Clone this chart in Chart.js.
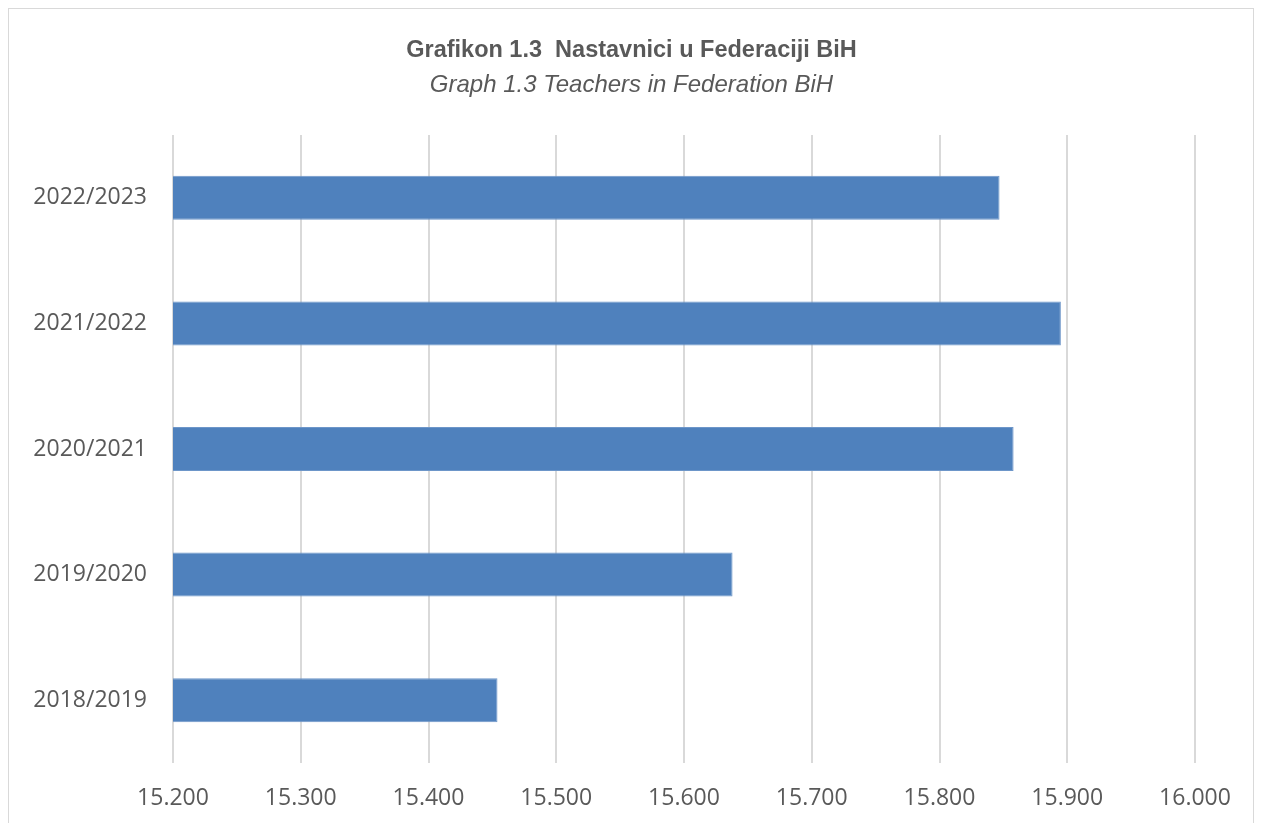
<!DOCTYPE html>
<html>
<head>
<meta charset="utf-8">
<script src="https://cdn.jsdelivr.net/npm/chart.js@4/dist/chart.umd.min.js"></script>
<style>
  body { margin: 0; background: #fff; }
  #wrap { position: relative; width: 1263px; height: 823px; }
  #frame { position: absolute; left: 8px; top: 8px; width: 1246px; height: 830px; border: 1px solid #d9d9d9; box-sizing: border-box; }
  canvas { position: absolute; left: 0; top: 0; }
</style>
</head>
<body>
<div id="wrap">
  <div id="frame"></div>
  <canvas id="chart" width="1263" height="823"></canvas>
</div>
<script>
// school years, top to bottom as in the picture
const years = ["2022/2023", "2021/2022", "2020/2021", "2019/2020", "2018/2019"];
const teachers = [15847, 15895, 15858, 15638, 15454];

const xMin = 15200;
const xMax = 16000;
const xStep = 100;

const grey = '#595959';

function fmt(v) {
  // 15200 -> 15.200
  return v.toLocaleString('de-DE');
}

// center the title + subtitle on the whole frame, not only the padded area
const centerTitles = {
  id: 'centerTitles',
  afterLayout(chart) {
    chart.boxes.forEach(b => {
      if (b.position === 'top' && b.options && b.options.text !== undefined) {
        b.left = 8;
        b.right = chart.width - 8;
      }
    });
  }
};

const chart = new Chart(document.getElementById('chart'), {
  type: 'bar',
  data: {
    labels: years,
    datasets: [{
      label: 'Nastavnici',
      data: teachers,
      backgroundColor: '#4f81bd',
      borderColor: '#6d96c9',
      borderWidth: 1,
      borderSkipped: false,
      barPercentage: 0.35,
      categoryPercentage: 1,
    }]
  },
  plugins: [centerTitles],
  options: {
    indexAxis: 'y',
    responsive: false,
    animation: false,
    layout: { padding: { left: 8, right: 68, top: 0, bottom: 0 } },
    plugins: {
      legend: { display: false },
      tooltip: { enabled: false },
      title: {
        display: true,
        text: 'Grafikon 1.3  Nastavnici u Federaciji BiH',
        color: grey,
        font: { family: 'Liberation Sans', size: 23.5, weight: 'bold' },
        padding: { top: 36, bottom: 7 }
      },
      subtitle: {
        display: true,
        text: 'Graph 1.3 Teachers in Federation BiH',
        color: grey,
        font: { family: 'Liberation Sans', size: 24, style: 'italic' },
        padding: { bottom: 35 }
      }
    },
    scales: {
      x: {
        min: xMin,
        max: xMax,
        afterFit: (s) => { s.height = 60; },
        ticks: {
          stepSize: xStep,
          color: grey,
          font: { family: 'Open Sans', size: 23 },
          padding: 22,
          callback: (v) => fmt(v)
        },
        grid: { color: '#d9d9d9', lineWidth: 2, drawTicks: false },
        border: { display: false }
      },
      y: {
        afterFit: (s) => { s.width = 165; },
        ticks: {
          color: grey,
          font: { family: 'Open Sans', size: 23 },
          crossAlign: 'near',
          padding: 18
        },
        grid: { display: false },
        border: { display: false }
      }
    }
  }
});
</script>
</body>
</html>
